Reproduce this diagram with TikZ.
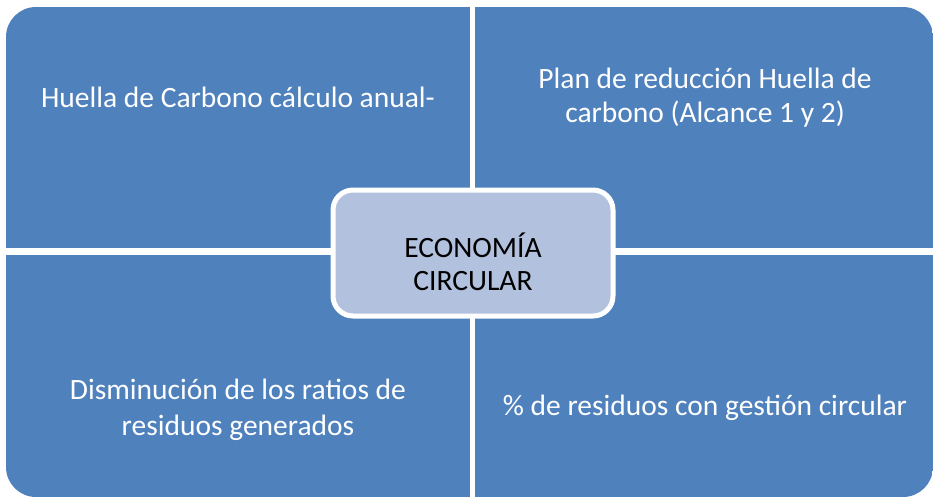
\documentclass[tikz,border=0pt]{standalone}
\usepackage{fontspec}
\setmainfont{Carlito}
\definecolor{quadblue}{RGB}{79,129,189}
\definecolor{hubblue}{RGB}{178,194,222}

\begin{document}
\begin{tikzpicture}[
    x = 1pt, y = -1pt,
      quad/.style={fill=quadblue},
      label/.style={text=white, align=center, font=\fontsize{29.5}{34}\selectfont, inner sep=0pt},
      hub/.style={draw=white, line width=5pt, fill=hubblue, rectangle, rounded corners=20pt, minimum width=280pt, minimum height=126pt},
      hubtext/.style={text=black, align=center, font=\fontsize{29.5}{33}\selectfont, inner sep=0pt}
  ]
      \useasboundingbox (0,0) rectangle (933,498);

      % Quadrants
      \begin{scope}
        \clip[rounded corners=30pt] (6,7) rectangle (933,497);
        \fill[quad] (6,7) rectangle (470,248);
        \fill[quad] (475,7) rectangle (933,248);
        \fill[quad] (6,255) rectangle (470,497);
        \fill[quad] (475,255) rectangle (933,497);
      \end{scope}

      % Top left
      \node (tl) at (238,97) [label] {Huella de Carbono cálculo anual-};

      % Top right
      \node (tr) at (705,98) [label] {Plan de reducción Huella de\\carbono (Alcance 1 y 2)};

      % Bottom left
      \node (bl) at (238,410) [label, font=\fontsize{29.5}{36}\selectfont] {Disminución de los ratios de\\residuos generados};

      % Bottom right
      \node (br) at (705,408) [label] {\% de residuos con gestión circular};

      % Centre
      \node (hub) at (473,253) [hub] {};
      \node (hubname) at (473,262) [hubtext] {ECONOMÍA\\CIRCULAR};
  \end{tikzpicture}
\end{document}
